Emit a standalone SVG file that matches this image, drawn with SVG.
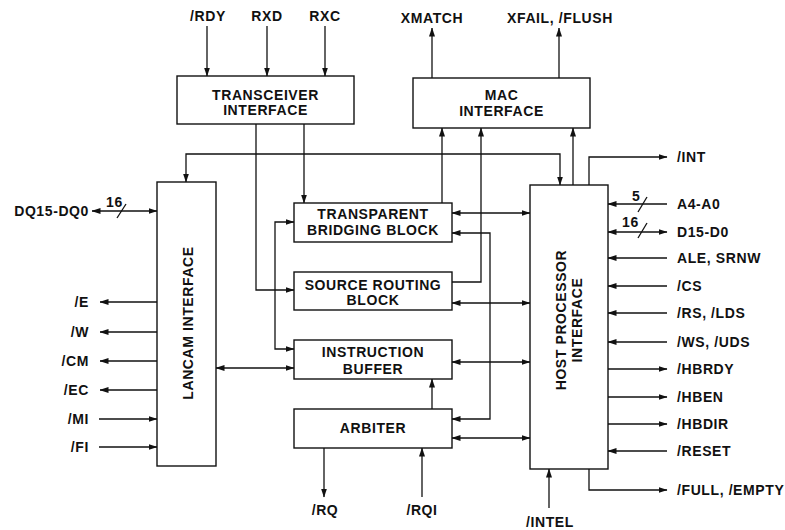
<svg xmlns="http://www.w3.org/2000/svg" width="785" height="530" viewBox="0 0 785 530">
<style>
  .box { fill: #fff; stroke: #111; stroke-width: 1.4; }
  .t { font-family: "Liberation Sans", Arial, sans-serif; font-weight: bold; font-size: 14px; fill: #111; letter-spacing: 0.6px; }
  .c { text-anchor: middle; }
  .e { text-anchor: end; }
  .w { fill: none; stroke: #111; stroke-width: 1.3; }
  .a { marker-end: url(#ah); }
  .b { marker-start: url(#ah); marker-end: url(#ah); }
</style>
<defs>
  <marker id="ah" markerUnits="userSpaceOnUse" markerWidth="9" markerHeight="7" refX="8.5" refY="3.5" orient="auto-start-reverse">
    <path d="M0,0.5 L9,3.5 L0,6.5 z" fill="#111"/>
  </marker>
</defs>
<rect width="785" height="530" fill="#fff"/>

<g id="connectors">
  <path class="w a" d="M207,26 V76"/>
  <path class="w a" d="M267,26 V76"/>
  <path class="w a" d="M325,26 V76"/>
  <path class="w a" d="M432,78 V28"/>
  <path class="w a" d="M559,78 V28"/>
  <path class="w a" d="M256,124 V290 H294"/>
  <path class="w a" d="M304,124 V203"/>
  <path class="w b" d="M186,182 V154 H560 V185"/>
  <path class="w a" d="M442,203 V128"/>
  <path class="w a" d="M452,282 H481 V128"/>
  <path class="w a" d="M573,185 V128"/>
  <path class="w a" d="M589,185 V157 H667"/>
  <path class="w b" d="M452,213 H530"/>
  <path class="w b" d="M452,233 H490 V419 H452"/>
  <path class="w b" d="M452,303 H530"/>
  <path class="w b" d="M452,362 H530"/>
  <path class="w b" d="M452,438 H530"/>
  <path class="w a" d="M432,409 V379"/>
  <path class="w a" d="M324,448 V497"/>
  <path class="w a" d="M422,497 V448"/>
  <path class="w a" d="M549,508 V469"/>
  <path class="w a" d="M589,469 V490 H667"/>
  <path class="w b" d="M294,222 H275 V349 H294"/>
  <path class="w b" d="M216,368 H294"/>
  <path class="w b" d="M92,211 H157"/>
  <path class="w" d="M117,218 L126,204"/>
  <path class="w a" d="M157,302 H100"/>
  <path class="w a" d="M157,332 H100"/>
  <path class="w a" d="M157,361 H100"/>
  <path class="w a" d="M157,390 H100"/>
  <path class="w a" d="M99,419 H157"/>
  <path class="w a" d="M99,447 H157"/>
  <path class="w a" d="M667,204 H608"/>
  <path class="w" d="M638,212 L647,197"/>
  <path class="w b" d="M608,232 H667"/>
  <path class="w" d="M638,238 L647,223"/>
  <path class="w a" d="M667,258 H608"/>
  <path class="w a" d="M667,286 H608"/>
  <path class="w a" d="M667,313 H608"/>
  <path class="w a" d="M667,342 H608"/>
  <path class="w a" d="M608,369 H667"/>
  <path class="w a" d="M608,397 H667"/>
  <path class="w a" d="M608,424 H667"/>
  <path class="w a" d="M667,451 H608"/>
</g>

<g id="transceiver">
  <rect class="box" x="177" y="76" width="177" height="48"/>
  <text class="t c" x="265.5" y="100">TRANSCEIVER</text>
  <text class="t c" x="265.5" y="115">INTERFACE</text>
</g>
<g id="mac">
  <rect class="box" x="413" y="78" width="177" height="50"/>
  <text class="t c" x="501.5" y="100">MAC</text>
  <text class="t c" x="501.5" y="116">INTERFACE</text>
</g>
<g id="tbb">
  <rect class="box" x="294" y="203" width="158" height="39"/>
  <text class="t c" x="373" y="219" letter-spacing="1.2">TRANSPARENT</text>
  <text class="t c" x="373" y="235">BRIDGING BLOCK</text>
</g>
<g id="srb">
  <rect class="box" x="294" y="272" width="158" height="38"/>
  <text class="t c" x="373" y="290">SOURCE ROUTING</text>
  <text class="t c" x="373" y="305">BLOCK</text>
</g>
<g id="ib">
  <rect class="box" x="294" y="340" width="158" height="39"/>
  <text class="t c" x="373" y="357">INSTRUCTION</text>
  <text class="t c" x="373" y="374">BUFFER</text>
</g>
<g id="arbiter">
  <rect class="box" x="294" y="409" width="158" height="39"/>
  <text class="t c" x="373" y="433">ARBITER</text>
</g>
<g id="lancam">
  <rect class="box" x="157" y="182" width="59" height="284"/>
  <text class="t c" transform="translate(193,323) rotate(-90)">LANCAM INTERFACE</text>
</g>
<g id="host">
  <rect class="box" x="530" y="185" width="78" height="284"/>
  <text class="t c" transform="translate(566,320) rotate(-90)">HOST PROCESSOR</text>
  <text class="t c" transform="translate(582,320) rotate(-90)">INTERFACE</text>
</g>

<g id="labels">
  <text class="t c" x="208" y="21">/RDY</text>
  <text class="t c" x="267" y="21">RXD</text>
  <text class="t c" x="325" y="21">RXC</text>
  <text class="t c" x="432" y="23">XMATCH</text>
  <text class="t c" x="560" y="23">XFAIL, /FLUSH</text>
  <text class="t e" x="89" y="216">DQ15-DQ0</text>
  <text class="t" x="106" y="207">16</text>
  <text class="t e" x="89" y="307">/E</text>
  <text class="t e" x="89" y="337">/W</text>
  <text class="t e" x="89" y="366">/CM</text>
  <text class="t e" x="89" y="395">/EC</text>
  <text class="t e" x="89" y="424">/MI</text>
  <text class="t e" x="89" y="452">/FI</text>
  <text class="t c" x="325" y="515">/RQ</text>
  <text class="t c" x="422" y="515">/RQI</text>
  <text class="t c" x="550" y="527">/INTEL</text>
  <text class="t" x="677" y="162">/INT</text>
  <text class="t" x="632" y="201">5</text>
  <text class="t" x="677" y="209">A4-A0</text>
  <text class="t" x="622" y="227">16</text>
  <text class="t" x="677" y="237">D15-D0</text>
  <text class="t" x="677" y="263">ALE, SRNW</text>
  <text class="t" x="677" y="291">/CS</text>
  <text class="t" x="677" y="318">/RS, /LDS</text>
  <text class="t" x="677" y="347">/WS, /UDS</text>
  <text class="t" x="677" y="374">/HBRDY</text>
  <text class="t" x="677" y="402">/HBEN</text>
  <text class="t" x="677" y="429">/HBDIR</text>
  <text class="t" x="677" y="456">/RESET</text>
  <text class="t" x="677" y="495">/FULL, /EMPTY</text>
</g>
</svg>
